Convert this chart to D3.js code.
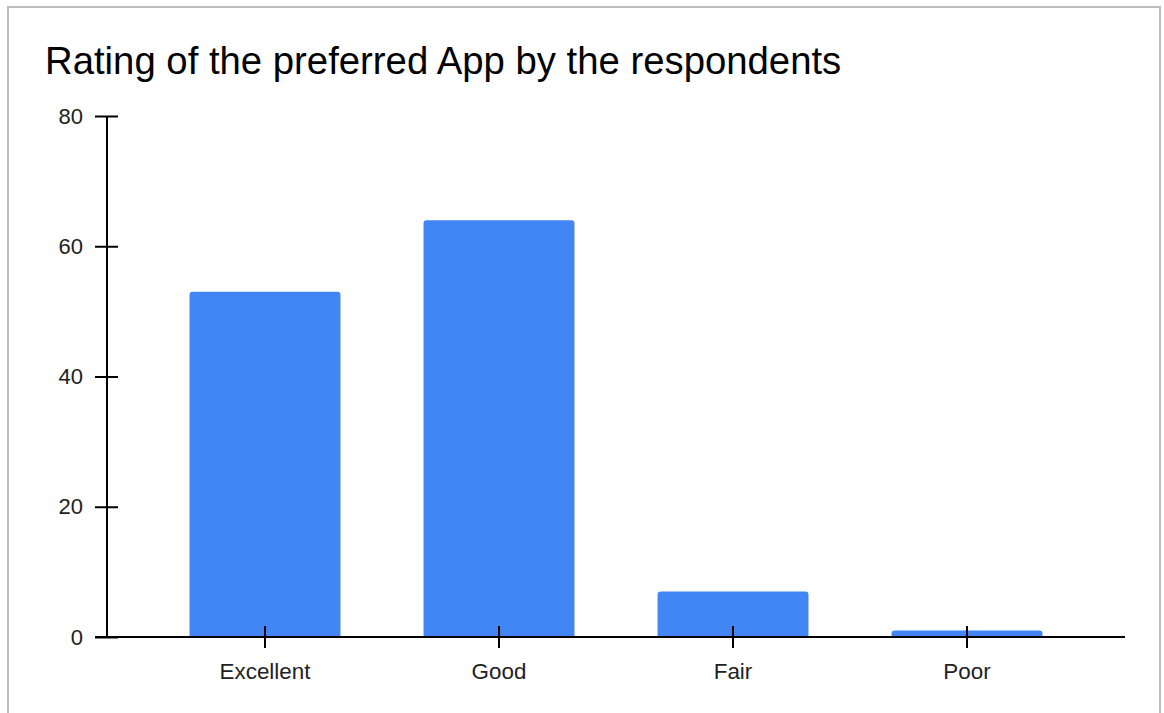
<!DOCTYPE html>
<html>
<head>
<meta charset="utf-8">
<script src="https://cdn.jsdelivr.net/npm/d3@7"></script>
<style>
  html, body { margin: 0; padding: 0; background: #fff; }
  svg { display: block; font-family: "Liberation Sans", Arial, sans-serif; }
</style>
</head>
<body>
<svg id="chart" width="1164" height="713"></svg>
<script>
// Ratings and respondent counts
const categories = ["Excellent", "Good", "Fair", "Poor"];
const counts = [53, 64, 7, 1];
const yTicks = [0, 20, 40, 60, 80];
const title = "Rating of the preferred App by the respondents";

const svg = d3.select("#chart");

// Card frame
svg.append("rect")
  .attr("x", 8).attr("y", 7)
  .attr("width", 1152).attr("height", 720)
  .attr("fill", "#fff")
  .attr("stroke", "#bdbdbd").attr("stroke-width", 2);

// Title
svg.append("text")
  .attr("x", 45).attr("y", 74)
  .attr("font-size", 38.3)
  .attr("fill", "#000")
  .text(title);

const x = d3.scaleBand()
  .domain(categories)
  .range([148, 1084])
  .paddingInner(0.355)
  .paddingOuter(0.1775);

const y = d3.scaleLinear()
  .domain([0, 80])
  .range([637, 116]);

// Bars with rounded top corners
const r = 3;
function barPath(d, i) {
  const x0 = x(categories[i]), w = x.bandwidth();
  const yt = y(d), yb = y(0);
  const rr = Math.min(r, (yb - yt));
  return `M${x0},${yb}V${yt + rr}Q${x0},${yt} ${x0 + rr},${yt}H${x0 + w - rr}Q${x0 + w},${yt} ${x0 + w},${yt + rr}V${yb}Z`;
}
svg.append("g")
  .selectAll("path")
  .data(counts)
  .join("path")
  .attr("d", barPath)
  .attr("fill", "#4285f4");

// Y axis: ticks cross the line
const yAxis = svg.append("g").attr("transform", "translate(107,0)")
  .call(d3.axisLeft(y).tickValues(yTicks).tickSize(12).tickPadding(12));
yAxis.select(".domain").remove();
yAxis.selectAll(".tick line")
  .attr("x1", -12).attr("x2", 11)
  .attr("stroke", "#000").attr("stroke-width", 2);
yAxis.selectAll(".tick text")
  .attr("x", -24)
  .attr("font-size", 22)
  .attr("font-family", "Liberation Sans, Arial, sans-serif")
  .attr("fill", "#222");
svg.append("line")
  .attr("x1", 107).attr("x2", 107)
  .attr("y1", 116).attr("y2", 637)
  .attr("stroke", "#000").attr("stroke-width", 2);

// X axis: baseline and centred category ticks
svg.append("line")
  .attr("x1", 95).attr("x2", 1125)
  .attr("y1", 637).attr("y2", 637)
  .attr("stroke", "#000").attr("stroke-width", 2);
const xAxis = svg.append("g").attr("transform", "translate(0,637)")
  .call(d3.axisBottom(x).tickSize(11).tickPadding(16));
xAxis.select(".domain").remove();
xAxis.selectAll(".tick line")
  .attr("y1", -11).attr("y2", 11)
  .attr("stroke", "#000").attr("stroke-width", 2);
xAxis.selectAll(".tick text")
  .attr("y", 0)
  .attr("dy", null)
  .attr("transform", "translate(0,42)")
  .attr("font-size", 22.4)
  .attr("font-family", "Liberation Sans, Arial, sans-serif")
  .attr("fill", "#222");
</script>
</body>
</html>
